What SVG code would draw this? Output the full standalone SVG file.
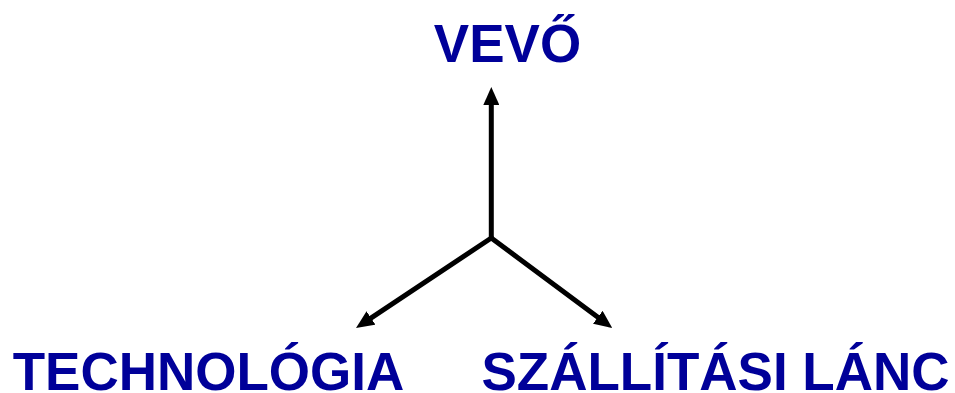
<svg xmlns="http://www.w3.org/2000/svg" width="955" height="393" viewBox="0 0 955 393">
<style>
.lbl{font-family:"Liberation Sans",Arial,sans-serif;font-weight:bold;font-size:53px;fill:#000099;text-anchor:middle}
.con{stroke:#000;stroke-width:5;fill:none;stroke-linecap:round}
</style>
<defs>
<marker id="ah" markerUnits="userSpaceOnUse" viewBox="0 0 18 16" markerWidth="18" markerHeight="16" refX="6" refY="8" orient="auto">
<path d="M0,0 L18,8 L0,16 Z" fill="#000"/>
</marker>
</defs>
<g id="connectors">
<line class="con" x1="491.3" y1="238" x2="491.3" y2="99" marker-end="url(#ah)"/>
<line class="con" x1="491.3" y1="238" x2="366" y2="321.3" marker-end="url(#ah)"/>
<line class="con" x1="491.3" y1="238" x2="602.6" y2="320.8" marker-end="url(#ah)"/>
</g>
<g id="vevo"><text class="lbl" x="507.5" y="62">VEVŐ</text></g>
<g id="technologia"><text class="lbl" x="208.5" y="389.5">TECHNOLÓGIA</text></g>
<g id="szallitasi"><text class="lbl" x="715.5" y="389.5">SZÁLLÍTÁSI LÁNC</text></g>
</svg>
